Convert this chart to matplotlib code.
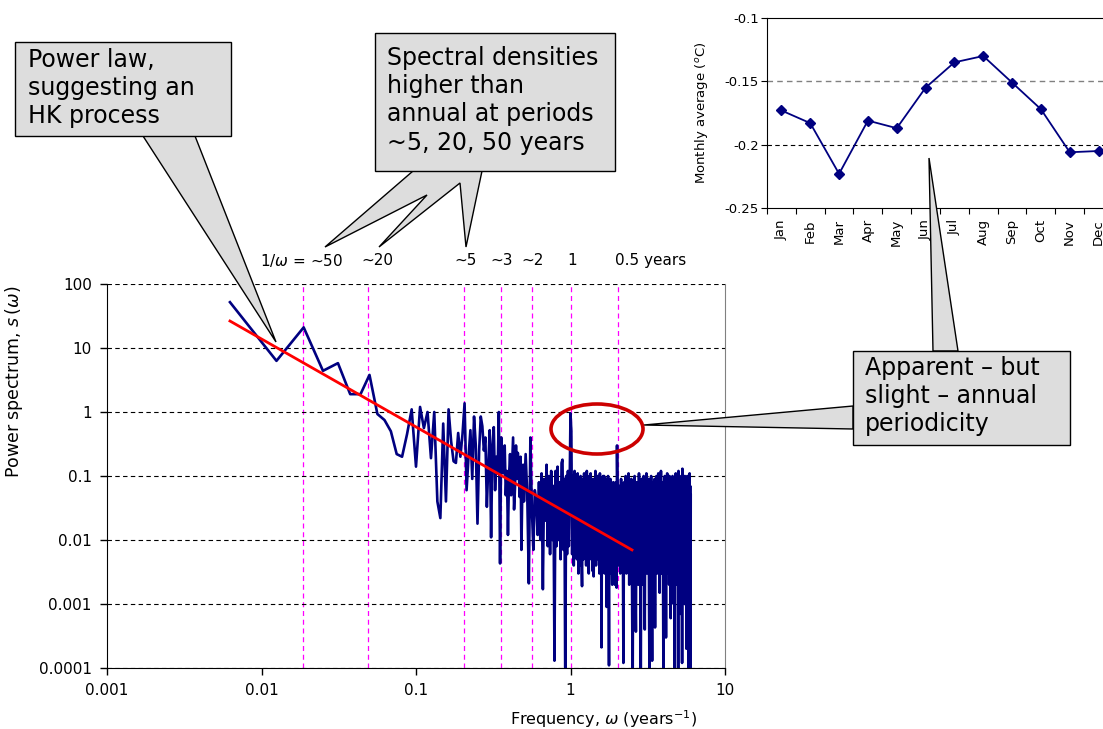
import matplotlib.pyplot as plt
from matplotlib.patches import Polygon, Rectangle, Ellipse
import numpy as np

# record length in years; harmonic k sits at frequency k / record_years
record_years = 160

# power spectrum ordinates, low harmonics one by one
k_low = np.arange(1, 81)
s_low = [52, 6.3, 21, 4.4, 5.8, 1.9, 1.9, 3.8, 0.93, 0.75,
         0.5, 0.22, 0.2, 0.45, 1.1, 0.14, 1.2, 0.56, 1.0, 0.19,
         1.0, 0.04, 0.022, 0.66, 0.04, 1.1, 0.35, 0.17, 0.16, 0.47,
         0.2, 0.45, 1.37, 0.06, 0.2, 0.52, 0.09, 0.85, 0.3, 0.018,
         0.25, 0.85, 0.6, 0.25, 0.4, 0.033, 0.15, 0.52, 0.011, 0.3,
         0.58, 0.06, 0.2, 0.11, 1.0, 0.0043, 0.4, 0.18, 0.11, 0.3,
         0.05, 0.12, 0.012, 0.1, 0.22, 0.05, 0.15, 0.4, 0.03, 0.068,
         0.3, 0.09, 0.23, 0.12, 0.047, 0.2, 0.007, 0.06, 0.15, 0.04]

# every second harmonic up to the half-year period
k_mid = np.arange(82, 321, 2)
s_mid = [0.22, 0.05, 0.0021, 0.4, 0.03, 0.007, 0.06, 0.042, 0.012, 0.08,
         0.01, 0.11, 0.0017, 0.09, 0.02, 0.15, 0.008, 0.1, 0.006, 0.12,
         0.01, 0.07, 0.00013, 0.12, 0.008, 0.14, 0.01, 0.08, 0.005, 0.16,
         0.18, 0.007, 0.09, 0.00005, 0.1, 0.006, 0.12, 0.008, 0.07, 0.95,
         0.5, 0.006, 0.1, 0.004, 0.12, 0.008, 0.09, 0.005, 0.11, 0.003,
         0.08, 0.004, 0.1, 0.007, 0.0019, 0.09, 0.005, 0.11, 0.006, 0.09,
         0.004, 0.12, 0.006, 0.08, 0.003, 0.1, 0.008, 0.11, 0.005, 0.07,
         0.0033, 0.09, 0.0027, 0.08, 0.006, 0.12, 0.004, 0.09, 0.007, 0.1,
         0.005, 0.08, 0.003, 0.11, 0.006, 0.07, 0.00021, 0.09, 0.004, 0.1,
         0.006, 0.1, 0.003, 0.08, 0.005, 0.09, 0.0009, 0.07, 0.004, 0.1,
         0.006, 0.00011, 0.08, 0.004, 0.09, 0.003, 0.08, 0.006, 0.002, 0.07,
         0.005, 0.08, 0.003, 0.07, 0.002, 0.06, 0.005, 0.08, 0.0018, 0.3]

# every fourth harmonic up to the Nyquist frequency (6 per year)
k_high = np.arange(324, 961, 4)
s_high = [0.02, 0.004, 0.07, 0.003, 0.09, 0.005, 0.06, 0.00012, 0.08, 0.004,
          0.1, 0.003, 0.06, 0.005, 0.11, 0.002, 0.07, 0.004, 0.09, 0.003,
          0.00004, 0.07, 0.004, 0.1, 0.003, 0.00037, 0.08, 0.005, 0.07, 0.002,
          0.11, 0.004, 0.06, 0.00005, 0.09, 0.003, 0.08, 0.002, 0.1, 0.005,
          0.0004, 0.08, 0.004, 0.11, 0.003, 0.07, 0.005, 0.09, 0.001, 0.00003,
          0.07, 0.004, 0.1, 0.003, 0.00013, 0.08, 0.005, 0.06, 0.002, 0.09,
          0.00043, 0.07, 0.004, 0.1, 0.003, 0.08, 0.006, 0.11, 0.003, 0.06,
          0.0015, 0.09, 0.004, 0.12, 0.003, 0.07, 0.005, 0.08, 0.002, 0.00003,
          0.07, 0.004, 0.1, 0.003, 0.06, 0.0003, 0.09, 0.005, 0.11, 0.003,
          0.07, 0.004, 0.08, 0.002, 0.1, 0.005, 0.07, 0.0006, 0.09, 0.004,
          0.08, 0.003, 0.1, 0.005, 0.06, 0.001, 0.08, 0.004, 0.00004, 0.07,
          0.004, 0.11, 0.003, 0.07, 0.005, 0.09, 0.002, 0.06, 0.00003, 0.12,
          0.004, 0.08, 0.003, 0.1, 0.002, 0.07, 0.0007, 0.08, 0.004, 0.06,
          0.00012, 0.13, 0.004, 0.08, 0.003, 0.09, 0.005, 0.07, 0.001, 0.1,
          0.003, 0.06, 0.004, 0.08, 0.0002, 0.07, 0.005, 0.1, 0.002, 0.07,
          0.004, 0.09, 0.00005, 0.08, 0.003, 0.11, 0.004, 0.07, 0.00003, 0.05]

# fitted power law (end points)
fit_freq = [0.00625, 2.5]
fit_s = [26.4, 0.0070]

# marked periods
period_freq = [0.0187, 0.049, 0.206, 0.357, 0.56, 1.0, 2.04]
period_labels = ['1/$\\omega$ = ~50', '~20', '~5', '~3', '~2', '1', '0.5 years']
period_label_freq = [0.0182, 0.056, 0.208, 0.36, 0.57, 1.03, 1.95]

x_ticks = [0.001, 0.01, 0.1, 1, 10]
x_ticklabels = ['0.001', '0.01', '0.1', '1', '10']
y_ticks = [0.0001, 0.001, 0.01, 0.1, 1, 10, 100]
y_ticklabels = ['0.0001', '0.001', '0.01', '0.1', '1', '10', '100']

# monthly averages
months = ['Jan', 'Feb', 'Mar', 'Apr', 'May', 'Jun',
          'Jul', 'Aug', 'Sep', 'Oct', 'Nov', 'Dec']
monthly_avg = [-0.173, -0.183, -0.223, -0.181, -0.187, -0.155,
               -0.135, -0.130, -0.151, -0.172, -0.206, -0.205]

W, H = 1103, 729


def fx(x):
    return x / W


def fy(y):
    return 1 - y / H


fig = plt.figure(figsize=(W / 100, H / 100), dpi=100)

# ---- power spectrum ----
ax = fig.add_axes([fx(107), fy(668), (725 - 107) / W, (668 - 284) / H])
ax.set_xscale('log')
ax.set_yscale('log')

for f in period_freq:
    ax.axvline(f, color='#ff00ff', lw=0.9, ls=(0, (4, 3)), zorder=1)
for yv in y_ticks:
    ax.axhline(yv, color='black', lw=0.8, ls=(0, (4, 3)), zorder=1)

freq = np.concatenate([k_low, k_mid, k_high]) / record_years
spec = np.array(s_low + s_mid + s_high)
ax.plot(freq, spec, color='#000080', lw=1.9, zorder=3)
ax.plot(fit_freq, fit_s, color='#ff0000', lw=2, zorder=4)

ax.set_xlim(0.001, 10)
ax.set_ylim(0.0001, 100)
ax.set_xticks(x_ticks)
ax.set_xticklabels(x_ticklabels)
ax.set_yticks(y_ticks)
ax.set_yticklabels(y_ticklabels)
ax.minorticks_off()
ax.tick_params(direction='out', length=5, width=1, labelsize=11)
ax.tick_params(axis='y', pad=6)
ax.tick_params(axis='x', pad=6)
ax.spines['top'].set_visible(False)
ax.spines['right'].set_color('#808080')

ax.set_ylabel('Power spectrum, $s\\,(\\omega)$', fontsize=12.5)
ax.yaxis.set_label_coords(-0.133, 0.745)
ax.set_xlabel('Frequency, $\\omega$ (years$^{-1}$)', fontsize=11.5)
ax.xaxis.set_label_coords(0.804, -0.105)

for xf, lab in zip(period_label_freq, period_labels):
    ax.text(xf, 1.06, lab, transform=ax.get_xaxis_transform(),
            ha='left' if lab.endswith('years') else 'center',
            va='center', fontsize=11)

# ---- monthly averages inset ----
ax2 = fig.add_axes([fx(767), fy(208), 346 / W, 190 / H])
ax2.axhline(-0.15, color='#808080', lw=1, ls=(0, (4, 3)))
ax2.axhline(-0.2, color='black', lw=0.8, ls=(0, (4, 3)))
ax2.plot(range(len(months)), monthly_avg, color='#000080', lw=1.3,
         marker='D', ms=5.5)
ax2.set_xlim(-0.5, 11.5)
ax2.set_ylim(-0.25, -0.1)
ax2.set_yticks([-0.25, -0.2, -0.15, -0.1])
ax2.set_yticklabels(['-0.25', '-0.2', '-0.15', '-0.1'])
ax2.set_xticks(np.arange(-0.5, 12, 1))
ax2.set_xticklabels([])
ax2.set_xticks(range(len(months)), minor=True)
ax2.set_xticklabels(months, minor=True, rotation=90)
ax2.tick_params(axis='x', which='major', direction='out', length=4)
ax2.tick_params(axis='x', which='minor', length=0, pad=8, labelsize=9.5)
ax2.tick_params(axis='y', direction='out', length=4, pad=2, labelsize=9.5)
ax2.set_ylabel('Monthly average ($^o$C)', fontsize=9.5)
ax2.yaxis.set_label_coords(-0.165, 0.5)

# ---- callouts ----
box_kw = dict(transform=fig.transFigure, facecolor='#dddddd',
              edgecolor='black', lw=1)
text_kw = dict(ha='left', va='top', fontsize=17, linespacing=1.22, zorder=8)


def poly(points, z=5):
    fig.add_artist(Polygon([(fx(x), fy(y)) for x, y in points],
                           closed=True, zorder=z, **box_kw))


def box(x0, y0, x1, y1):
    fig.add_artist(Rectangle((fx(x0), fy(y1)), (x1 - x0) / W, (y1 - y0) / H,
                             zorder=6, **box_kw))


poly([(143, 136), (276, 342), (195, 136)])
box(15, 42, 231, 136)
fig.text(fx(28), fy(48), 'Power law,\nsuggesting an\nHK process', **text_kw)

poly([(413, 171), (325, 247), (427, 195), (379, 247),
      (460, 183), (466, 247), (482, 171)])
box(375, 33, 615, 171)
fig.text(fx(387), fy(46),
         'Spectral densities\nhigher than\nannual at periods\n~5, 20, 50 years',
         **text_kw)

poly([(853, 406), (644, 425), (853, 429)])
poly([(933, 351), (929, 158), (958, 351)])
box(853, 351, 1070, 445)
fig.text(fx(865), fy(356), 'Apparent \u2013 but\nslight \u2013 annual\nperiodicity',
         **text_kw)

fig.add_artist(Ellipse((fx(597), fy(429)), 92 / W, 50 / H,
                       transform=fig.transFigure, fill=False,
                       edgecolor='#cc0000', lw=2.6, zorder=7))

fig.savefig('out.png', dpi=100)
